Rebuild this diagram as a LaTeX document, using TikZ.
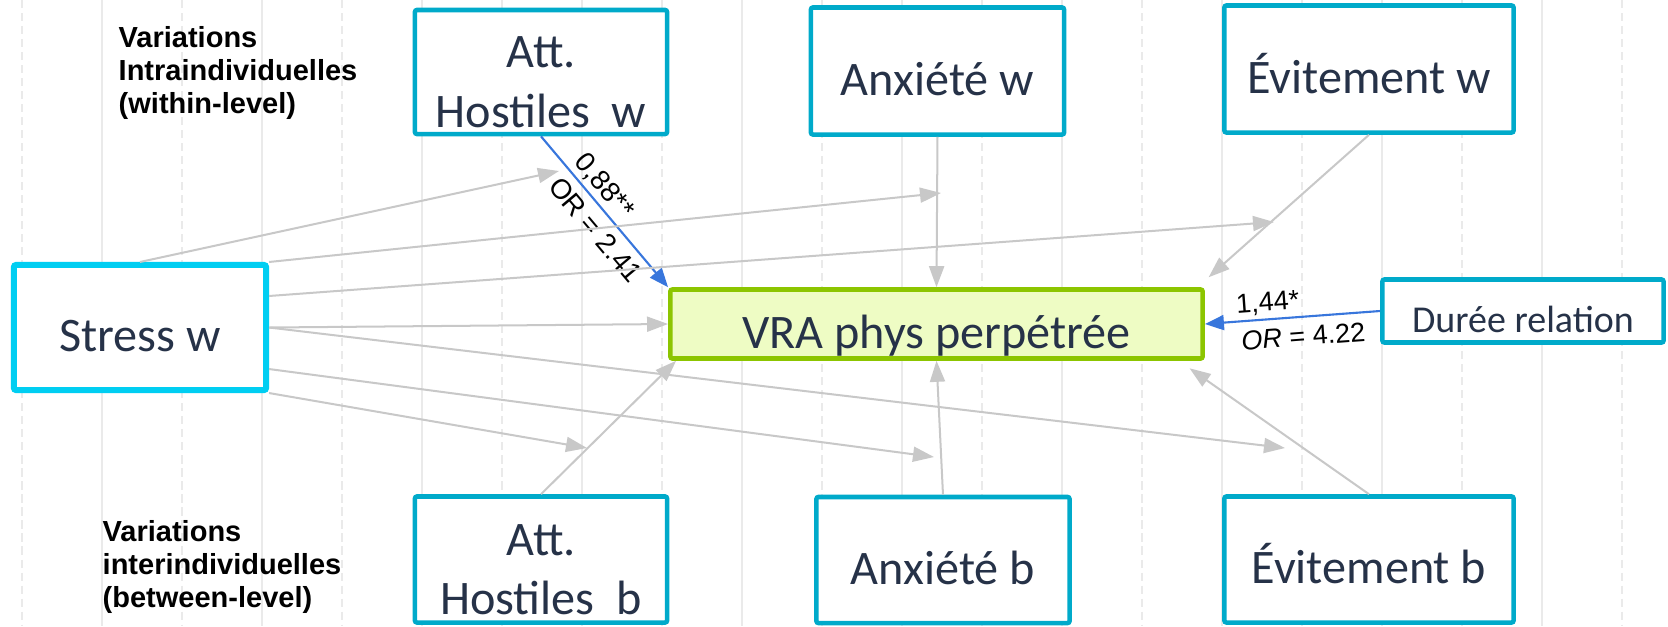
\documentclass[tikz,border=0pt]{standalone}
\usepackage{fontspec}
\setmainfont{Carlito}
\newfontfamily\arialfont{Liberation Sans}
\usetikzlibrary{arrows.meta}
\definecolor{tealbox}{RGB}{0,170,202}
\definecolor{stresscyan}{RGB}{0,206,242}
\definecolor{vragreen}{RGB}{140,197,0}
\definecolor{vrafill}{RGB}{238,252,196}
\definecolor{navytext}{RGB}{38,50,72}
\definecolor{arrowgray}{RGB}{200,200,200}
\definecolor{arrowblue}{RGB}{56,118,220}
\definecolor{gridgray}{RGB}{234,234,234}

\begin{document}
\begin{tikzpicture}[x=0.01cm, y=-0.01cm,
	box/.style={draw=tealbox, line width=1.3pt, fill=white, rounded corners=0.6pt, text=navytext, inner sep=0pt, font=\fontsize{13.7}{16.9}\selectfont, text height=4.8mm, text depth=0mm},
	twoline/.style={text height=11mm},
	grayarrow/.style={draw=arrowgray, line width=0.57pt, -{Triangle[length=2.1mm,width=1.5mm]}},
	bluearrow/.style={draw=arrowblue, line width=0.6pt, -{Triangle[length=1.9mm,width=1.5mm]}},
	coeff/.style={font=\arialfont\fontsize{7.9}{9}\selectfont, inner sep=1pt, sloped},
	coeffsmall/.style={font=\arialfont\fontsize{7.7}{9}\selectfont, inner sep=1pt, sloped},
	levellabel/.style={font=\arialfont\bfseries\fontsize{8.25}{9.4}\selectfont, anchor=base west, inner sep=0pt}]
	\fill[white] (0,0) rectangle (1668,626);
	\useasboundingbox (0,0) rectangle (1668,626);
	% background grid
	\foreach \x in {22,182,...,1622}
		\draw[gridgray, line width=0.5pt, dash pattern=on 2.3pt off 1.4pt] (\x,0) -- (\x,626);
	\foreach \x in {102,262,...,1542}
		\draw[gridgray, line width=0.5pt] (\x,0) -- (\x,626);
	
	\node[levellabel] (intra) at (118,47) {\begin{tabular}[t]{@{}l@{}}Variations\\Intraindividuelles\\(within-level)\end{tabular}};
	\node[levellabel] (inter) at (102,541) {\begin{tabular}[t]{@{}l@{}}Variations\\interindividuelles\\(between-level)\end{tabular}};
	
	\node[box, twoline, minimum width=2.52cm, minimum height=1.24cm] (attw) at (541,72) {\begin{tabular}[b]{@{}c@{}}Att.\\Hostiles\ \ w\end{tabular}};
	\node[box, minimum width=2.53cm, minimum height=1.27cm] (anxw) at (937.5,71) {Anxiété w};
	\node[box, minimum width=2.89cm, minimum height=1.27cm] (eviw) at (1369,69) {Évitement w};
	\node[box, draw=stresscyan, line width=1.7pt, minimum width=2.52cm, minimum height=1.25cm] (stress) at (140,327.5) {Stress w};
	\node[box, draw=vragreen, fill=vrafill, minimum width=5.32cm, minimum height=0.69cm] (vra) at (936.5,324) {VRA phys perpétrée};
	\node[box, font=\fontsize{10.8}{12}\selectfont, text height=4.2mm, minimum width=2.81cm, minimum height=0.63cm] (duree) at (1523,311) {Durée relation};
	\node[box, twoline, minimum width=2.52cm, minimum height=1.26cm] (attb) at (541,559.5) {\begin{tabular}[b]{@{}c@{}}Att.\\Hostiles\ \ b\end{tabular}};
	\node[box, minimum width=2.53cm, minimum height=1.26cm] (anxb) at (943,560) {Anxiété b};
	\node[box, minimum width=2.89cm, minimum height=1.26cm] (evib) at (1369,559.5) {Évitement b};
	
	% where the stress arrows stop
	\coordinate (modatt) at (559,171);
	\coordinate (modanx) at (941,193);
	\coordinate (modevi) at (1274,222);
	\coordinate (modevib) at (1285,448);
	\coordinate (modanxb) at (934,457);
	\coordinate (modattb) at (587,448);
	
	\draw[bluearrow] (attw.south) -- (vra.north west)
		node[coeff, pos=0.40, above] {0,88**}
		node[coeff, pos=0.54, below=1.2pt] {OR = 2.41};
	\draw[grayarrow] (anxw.south) -- (vra.north);
	\draw[grayarrow, shorten >=1.5mm] (eviw.south) -- ([xshift=-0.75mm]vra.north east);
	\draw[grayarrow] (attb.north) -- ([xshift=0.8mm]vra.south west);
	\draw[grayarrow] (anxb.north) -- (vra.south);
	\draw[grayarrow, shorten >=1.3mm] (evib.north) -- ([xshift=-2.6mm]vra.south east);
	\draw[bluearrow] (duree.west) -- (vra.east)
		node[coeffsmall, pos=0.635, above] {1,44*}
		node[coeffsmall, pos=0.446, below=1.5pt] {\textit{OR} = 4.22};
	
	\draw[grayarrow] (stress.north) -- (modatt);
	\draw[grayarrow] (stress.north east) -- (modanx);
	\draw[grayarrow] ([yshift=3.15mm]stress.east) -- (modevi);
	\draw[grayarrow] (stress.east) -- (vra.west);
	\draw[grayarrow] (stress.east) -- (modevib);
	\draw[grayarrow] ([yshift=-4.15mm]stress.east) -- (modanxb);
	\draw[grayarrow] (stress.south east) -- (modattb);
\end{tikzpicture}
\end{document}
